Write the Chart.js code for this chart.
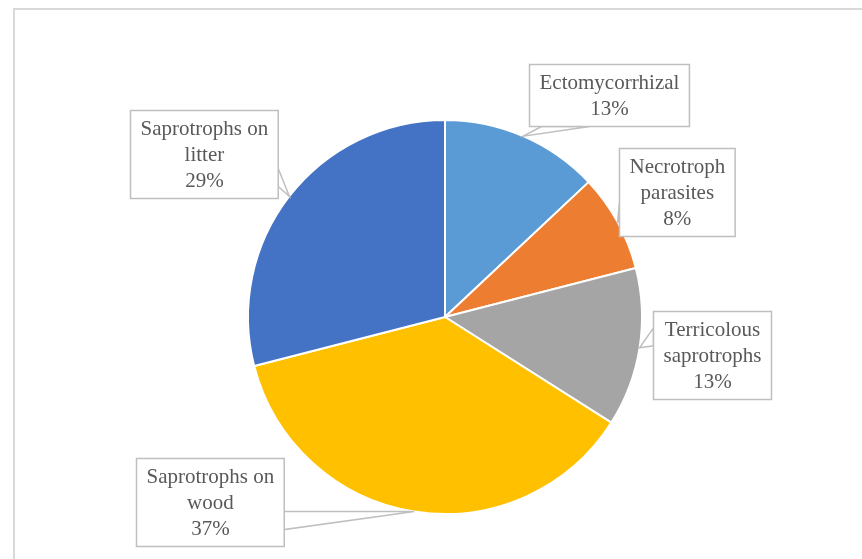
<!DOCTYPE html>
<html>
<head>
<meta charset="utf-8">
<script src="https://cdn.jsdelivr.net/npm/chart.js@4.4.1/dist/chart.umd.min.js"></script>
<style>
	html, body { margin: 0; padding: 0; background: #fff; }
	#wrap { width: 862px; height: 559px; }
</style>
</head>
<body>
<div id="wrap"><canvas id="pieChart" width="862" height="559"></canvas></div>
<script>
const categories = [
	["Ectomycorrhizal"],
	["Necrotroph", "parasites"],
	["Terricolous", "saprotrophs"],
	["Saprotrophs on", "wood"],
	["Saprotrophs on", "litter"],
];
const shares = [13, 8, 13, 37, 29];
const sliceColors = ["#5b9bd5", "#ed7d31", "#a5a5a5", "#ffc000", "#4472c4"];
// where each callout box sits, relative to the slice's outer mid point
const calloutOffsets = [
	[86, -41],
	[59, -30],
	[72, 7],
	[-204, -10],
	[-85, -42],
];

const frame = {
	id: "frame",
	beforeDraw(chart) {
		const ctx = chart.ctx;
		ctx.save();
		ctx.strokeStyle = "#d9d9d9";
		ctx.lineWidth = 2;
		ctx.strokeRect(14, 9, 900, 600);
		ctx.restore();
	},
};

const callouts = {
	id: "callouts",
	afterDraw(chart) {
		const ctx = chart.ctx;
		const meta = chart.getDatasetMeta(0);
		const font = "21px 'Liberation Serif', serif";
		const lineH = 26;
		ctx.save();
		ctx.font = font;
		meta.data.forEach((arc, i) => {
			const { x, y, startAngle, endAngle, outerRadius } = arc.getProps(
				["x", "y", "startAngle", "endAngle", "outerRadius"],
				true
			);
			const mid = (startAngle + endAngle) / 2;
			const ax = x + Math.cos(mid) * outerRadius;
			const ay = y + Math.sin(mid) * outerRadius;
			const lines = categories[i].concat([shares[i] + "%"]);
			const w = Math.max(...lines.map((l) => ctx.measureText(l).width)) + 20;
			const h = lines.length * lineH + 10;
			const cx = ax + calloutOffsets[i][0];
			const cy = ay + calloutOffsets[i][1];
			const left = Math.round(cx - w / 2) + 0.5;
			const top = Math.round(cy - h / 2) + 0.5;

			// wedge base on the box side facing the anchor
			let b1, b2;
			if (ax > left + w) {
				const by = Math.min(Math.max(ay, top + 12), top + h - 30);
				b1 = [left + w, by];
				b2 = [left + w, by + 18];
				if (ay > top + h) { b1 = [left + w, top + h - 22]; b2 = [left + w - 12, top + h]; }
			} else if (ax < left) {
				const by = Math.min(Math.max(ay - 20, top + 10), top + h - 30);
				b1 = [left, by];
				b2 = [left, by + 18];
				if (ay > top + h) { b1 = [left + 12, top + h]; b2 = [left + 60, top + h]; }
			} else {
				b1 = [left + 12, top + h];
				b2 = [left + 60, top + h];
			}
			ctx.fillStyle = "#fff";
			ctx.strokeStyle = "#bfbfbf";
			ctx.lineWidth = 1.5;
			ctx.beginPath();
			ctx.moveTo(b1[0], b1[1]);
			ctx.lineTo(ax, ay);
			ctx.lineTo(b2[0], b2[1]);
			ctx.closePath();
			ctx.fill();
			ctx.stroke();
			ctx.fillRect(left, top, w, h);
			ctx.strokeRect(left, top, w, h);

			ctx.fillStyle = "#595959";
			ctx.textAlign = "center";
			ctx.textBaseline = "middle";
			lines.forEach((l, k) => {
				ctx.fillText(l, left + w / 2, top + 5 + lineH / 2 + k * lineH + 1);
			});
		});
		ctx.restore();
	},
};

new Chart(document.getElementById("pieChart"), {
	type: "pie",
	data: {
		labels: categories.map((c) => c.join(" ")),
		datasets: [
			{
				data: shares,
				backgroundColor: sliceColors,
				borderColor: "#ffffff",
				borderWidth: 2,
			},
		],
	},
	options: {
		responsive: false,
		animation: false,
		layout: { padding: { left: 247, right: 219, top: 119, bottom: 44 } },
		plugins: {
			legend: { display: false },
			tooltip: { enabled: false },
		},
	},
	plugins: [frame, callouts],
});
</script>
</body>
</html>
